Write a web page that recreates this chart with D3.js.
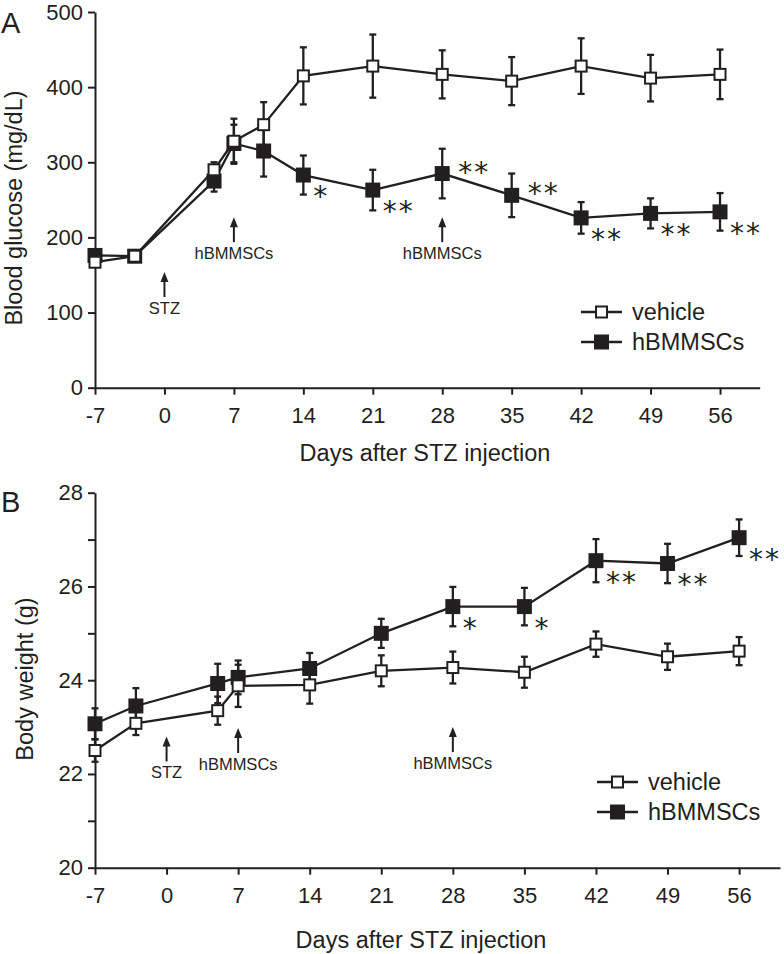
<!DOCTYPE html>
<html>
<head>
<meta charset="utf-8">
<script src="https://cdn.jsdelivr.net/npm/d3@7"></script>
<style>
  html, body { margin: 0; padding: 0; background: #fff; }
  svg { display: block; }
  text { font-family: "Liberation Sans", Arial, sans-serif; fill: #231f20; }
</style>
</head>
<body>
<svg id="chart" width="784" height="954"></svg>
<script>
// ---------- Data ----------
const xTickValues = [-7, 0, 7, 14, 21, 28, 35, 42, 49, 56];
const seriesNames = ["vehicle", "hBMMSCs"];

// Panel A: blood glucose (mg/dL)
const daysA = [-7, -3, 5, 7, 10, 14, 21, 28, 35, 42, 49, 56];
const glucoseVehicle    = [167, 175, 290, 328, 350, 415, 428, 417, 408, 428, 412, 417];
const glucoseVehicleErr = [6, 5, 10, 30, 30, 38, 42, 32, 32, 37, 31, 33];
const glucoseHB         = [176, 175, 275, 325, 315, 283, 263, 285, 256, 226, 232, 234];
const glucoseHBErr      = [6, 5, 14, 25, 34, 26, 27, 33, 29, 21, 20, 25];
const glucoseStars      = ["", "", "", "", "", "*", "**", "**", "**", "**", "**", "**"];
const glucoseStarSide   = ["", "", "", "", "", "below", "below", "above", "above", "below", "below", "below"];
const glucoseTicks      = [0, 100, 200, 300, 400, 500];
const glucoseNotes      = [
  { day: 0,  value: 154, label: "STZ" },
  { day: 7,  value: 227, label: "hBMMSCs" },
  { day: 28, value: 227, label: "hBMMSCs" }
];

// Panel B: body weight (g)
const daysB = [-7, -3, 5, 7, 14, 21, 28, 35, 42, 49, 56];
const weightVehicle    = [22.50, 23.08, 23.35, 23.88, 23.90, 24.20, 24.27, 24.17, 24.77, 24.50, 24.62];
const weightVehicleErr = [0.24, 0.25, 0.30, 0.45, 0.40, 0.33, 0.34, 0.33, 0.27, 0.28, 0.30];
const weightHB         = [23.07, 23.45, 23.93, 24.06, 24.25, 25.00, 25.57, 25.57, 26.55, 26.49, 27.04];
const weightHBErr      = [0.33, 0.38, 0.42, 0.36, 0.33, 0.31, 0.42, 0.40, 0.46, 0.42, 0.39];
const weightStars      = ["", "", "", "", "", "", "*", "*", "**", "**", "**"];
const weightStarSide   = ["", "", "", "", "", "", "below", "below", "below", "below", "below"];
const weightTicks      = [20, 21, 22, 23, 24, 25, 26, 27, 28];
const weightTickLabels = [20, 22, 24, 26, 28];
const weightNotes      = [
  { day: 0,  value: 22.8,  label: "STZ" },
  { day: 7,  value: 22.98, label: "hBMMSCs" },
  { day: 28, value: 23.0,  label: "hBMMSCs" }
];

// ---------- Drawing ----------
const svg = d3.select("#chart");
const INK = "#231f20";
const fmt = d => String(d).replace("\u2212", "-");

function drawPanel(cfg) {
  const g = svg.append("g");
  const x = d3.scaleLinear().domain([-7, 60]).range(cfg.xRange);
  const y = d3.scaleLinear().domain(cfg.yDomain).range(cfg.yRange);

  // axes
  const xAxis = d3.axisBottom(x).tickValues(xTickValues).tickSize(7).tickSizeOuter(0).tickPadding(13)
    .tickFormat(fmt);
  const yAxis = d3.axisLeft(y).tickValues(cfg.yTicks).tickSize(7).tickSizeOuter(0).tickPadding(5)
    .tickFormat(d => cfg.yLabels.includes(d) ? fmt(d) : "");
  const gx = g.append("g").attr("transform", `translate(0,${cfg.yRange[0]})`).call(xAxis);
  const gy = g.append("g").attr("transform", `translate(${cfg.xRange[0]},0)`).call(yAxis);
  [gx, gy].forEach(a => {
    a.selectAll("path, line").attr("stroke", INK).attr("stroke-width", 2);
    a.selectAll("text").attr("font-size", 22).attr("fill", INK)
      .style("font-family", '"Liberation Sans", Arial, sans-serif');
  });

  // axis titles
  g.append("text").attr("x", cfg.xTitleX).attr("y", cfg.xTitleY)
    .attr("text-anchor", "middle").attr("font-size", 23.5).text("Days after STZ injection");
  g.append("text").attr("transform", `translate(${cfg.yTitleX},${cfg.yTitleY}) rotate(-90)`)
    .attr("text-anchor", "middle").attr("font-size", 23.5).text(cfg.yTitle);
  g.append("text").attr("x", 1).attr("y", cfg.panelLabelY).attr("font-size", 29).text(cfg.panelLabel);

  // annotations (arrows)
  cfg.notes.forEach(n => {
    const px = x(n.day), tip = y(n.value);
    g.append("line").attr("x1", px).attr("x2", px).attr("y1", tip + 6).attr("y2", tip + 25)
      .attr("stroke", INK).attr("stroke-width", 2);
    g.append("path").attr("d", `M${px},${tip} L${px - 4},${tip + 10} L${px + 4},${tip + 10} Z`).attr("fill", INK);
    g.append("text").attr("x", px).attr("y", tip + 42).attr("text-anchor", "middle")
      .attr("font-size", 16.5).text(n.label);
  });

  const line = d3.line().x(d => x(d.day)).y(d => y(d.v));

  const series = [
    { name: seriesNames[1], days: cfg.days, v: cfg.hb, e: cfg.hbErr, fill: INK, size: 13 },
    { name: seriesNames[0], days: cfg.days, v: cfg.veh, e: cfg.vehErr, fill: "#fff", size: 11 }
  ];

  // lines first
  series.forEach(s => {
    const pts = s.days.map((d, i) => ({ day: d, v: s.v[i] }));
    g.append("path").datum(pts).attr("d", line).attr("fill", "none")
      .attr("stroke", INK).attr("stroke-width", 2.3);
  });

  // error bars and markers
  series.forEach(s => {
    const pts = s.days.map((d, i) => ({ day: d, v: s.v[i], e: s.e[i] }));
    const eb = g.append("g");
    pts.forEach(p => {
      const px = x(p.day), y1 = y(p.v + p.e), y2 = y(p.v - p.e);
      eb.append("line").attr("x1", px).attr("x2", px).attr("y1", y1).attr("y2", y2)
        .attr("stroke", INK).attr("stroke-width", 2.3);
      [y1, y2].forEach(yy => eb.append("line").attr("x1", px - 3.5).attr("x2", px + 3.5)
        .attr("y1", yy).attr("y2", yy).attr("stroke", INK).attr("stroke-width", 2.3));
    });
    g.append("g").selectAll("rect").data(pts).join("rect")
      .attr("x", p => x(p.day) - s.size / 2).attr("y", p => y(p.v) - s.size / 2)
      .attr("width", s.size).attr("height", s.size)
      .attr("fill", s.fill).attr("stroke", INK).attr("stroke-width", 2);
  });

  // significance stars
  cfg.days.forEach((d, i) => {
    const st = cfg.stars[i];
    if (!st) return;
    const px = x(d), py = y(cfg.hb[i]);
    const above = cfg.starSide[i] === "above";
    g.append("text").attr("x", px + (above ? 16 : 10)).attr("y", py + (above ? 8 : 31))
      .attr("font-size", 28).attr("letter-spacing", 2)
      .style("font-family", '"DejaVu Sans", sans-serif')
      .attr("fill", "#505050").text(st);
  });

  // legend
  const lg = g.append("g");
  series.slice().reverse().forEach((s, i) => {
    const yy = cfg.legendY + i * 30;
    lg.append("line").attr("x1", cfg.legendX).attr("x2", cfg.legendX + 41).attr("y1", yy).attr("y2", yy)
      .attr("stroke", INK).attr("stroke-width", 2.3);
    lg.append("rect").attr("x", cfg.legendX + 20.5 - s.size / 2).attr("y", yy - s.size / 2)
      .attr("width", s.size).attr("height", s.size).attr("fill", s.fill)
      .attr("stroke", INK).attr("stroke-width", 2);
    lg.append("text").attr("x", cfg.legendX + 51).attr("y", yy + 8).attr("font-size", 23.5).text(s.name);
  });
}

drawPanel({
  panelLabel: "A", panelLabelY: 33,
  xRange: [95, 759.7], yDomain: [0, 500], yRange: [387.7, 12],
  yTicks: glucoseTicks, yLabels: glucoseTicks,
  yTitle: "Blood glucose (mg/dL)", yTitleX: 22, yTitleY: 208,
  xTitleX: 425, xTitleY: 461,
  days: daysA, veh: glucoseVehicle, vehErr: glucoseVehicleErr, hb: glucoseHB, hbErr: glucoseHBErr,
  stars: glucoseStars, starSide: glucoseStarSide, notes: glucoseNotes,
  legendX: 581, legendY: 312
});

drawPanel({
  panelLabel: "B", panelLabelY: 512,
  xRange: [95, 780], yDomain: [20, 28], yRange: [867.7, 492.7],
  yTicks: weightTicks, yLabels: weightTickLabels,
  yTitle: "Body weight (g)", yTitleX: 33, yTitleY: 679,
  xTitleX: 421, xTitleY: 948,
  days: daysB, veh: weightVehicle, vehErr: weightVehicleErr, hb: weightHB, hbErr: weightHBErr,
  stars: weightStars, starSide: weightStarSide, notes: weightNotes,
  legendX: 597, legendY: 782
});
</script>
</body>
</html>
